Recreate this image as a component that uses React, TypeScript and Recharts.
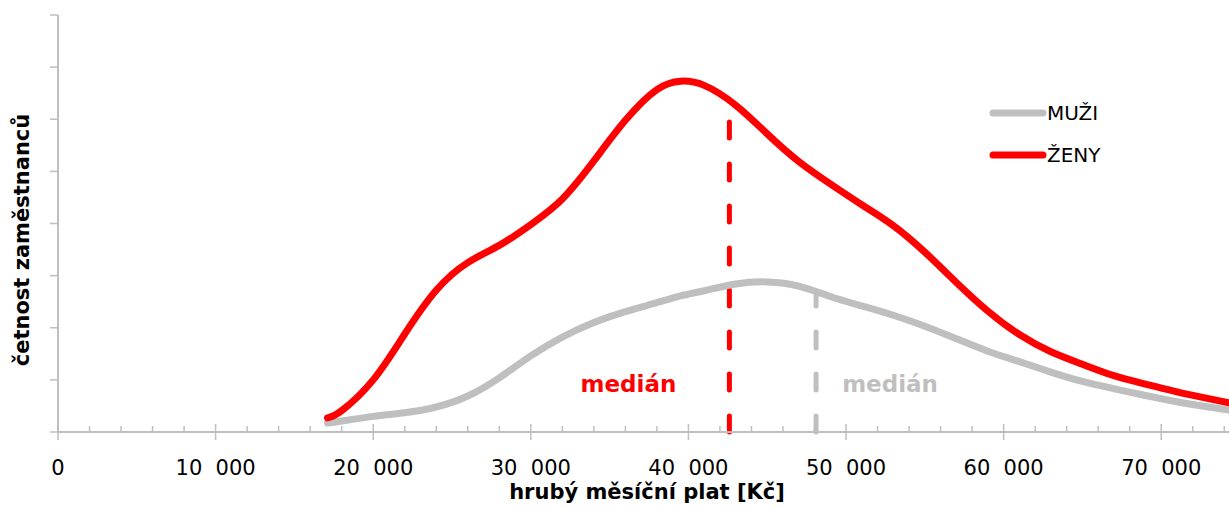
import React from "react";
import { LineChart, Line, XAxis, YAxis, ReferenceLine } from "recharts";

// hrubý měsíční plat [Kč]
const salaries = [
  17100, 18000, 20000, 22000, 24000, 26000, 28000, 30000, 32000, 34000, 36000,
  38000, 39500, 41000, 43000, 45000, 47000, 49000, 51000, 53000, 55000, 57000,
  59000, 61000, 63000, 65000, 67000, 69000, 71000, 73000, 74300,
];
const zeny = [
  0.27, 0.41, 1.0, 1.88, 2.72, 3.25, 3.58, 3.98, 4.47, 5.2, 5.98, 6.57, 6.73,
  6.65, 6.27, 5.72, 5.19, 4.76, 4.36, 3.96, 3.45, 2.87, 2.32, 1.87, 1.54, 1.3,
  1.08, 0.92, 0.77, 0.64, 0.56,
];
const muzi = [
  0.17, 0.21, 0.3, 0.37, 0.48, 0.69, 1.04, 1.46, 1.82, 2.1, 2.31, 2.48, 2.61,
  2.71, 2.84, 2.88, 2.8, 2.6, 2.42, 2.24, 2.03, 1.79, 1.55, 1.35, 1.15, 0.97,
  0.83, 0.7, 0.58, 0.48, 0.42,
];
const medianZeny = 42600;
const medianZenyTop = 6;
const medianMuzi = 48100;
const medianMuziTop = 2.68;

const xTicks = Array.from({ length: 38 }, (_, i) => i * 2000);
const yTicks = [0, 1, 2, 3, 4, 5, 6, 7, 8];

const data = salaries.map((s, i) => ({ plat: s, zeny: zeny[i], muzi: muzi[i] }));

const RED = "#ff0000";
const GRAY = "#bfbfbf";
const FONT = "'DejaVu Sans', sans-serif";

const formatTick = (v: number) =>
  v === 0 ? "0" : `${Math.floor(v / 1000)}\u00a0\u00a0000`;

const XTick = ({ x, y, payload }: any) => {
  const v = payload.value as number;
  const major = v % 10000 === 0;
  return (
    <g>
      <line
        x1={x}
        x2={x}
        y1={major ? y - 8 : y - 6}
        y2={major ? y + 8 : y}
        stroke={GRAY}
        strokeWidth={1.5}
      />
      {major && (
        <text
          x={x}
          y={y + 43}
          textAnchor="middle"
          fontSize={21}
          fontFamily={FONT}
          fill="#000"
        >
          {formatTick(v)}
        </text>
      )}
    </g>
  );
};

const legendItems = [
  { name: "MUŽI", color: GRAY },
  { name: "ŽENY", color: RED },
];

const medianLabel =
  (color: string, dx: number) =>
  ({ viewBox }: any) =>
    (
      <text
        x={viewBox.x + dx}
        y={viewBox.y + viewBox.height - 40}
        textAnchor="middle"
        fontSize={23}
        fontWeight="bold"
        fontFamily={FONT}
        fill={color}
      >
        medián
      </text>
    );

export default function App() {
  return (
    <div
      style={{
        position: "absolute",
        left: 0,
        top: 0,
        width: 1229,
        height: 508,
        background: "#fff",
      }}
    >
      <LineChart
        width={1229}
        height={508}
        data={data}
        margin={{ top: 15, right: 0, left: 50, bottom: 36 }}
      >
        <XAxis
          dataKey="plat"
          type="number"
          domain={[0, 74260]}
          ticks={xTicks}
          interval={0}
          height={40}
          tickSize={0}
          tickMargin={0}
          tickLine={false}
          tick={<XTick />}
          axisLine={{ stroke: GRAY, strokeWidth: 2 }}
        />
        <YAxis
          type="number"
          domain={[0, 8]}
          ticks={yTicks}
          width={8}
          tickSize={8}
          tickMargin={0}
          tickFormatter={() => ""}
          tickLine={{ stroke: GRAY, strokeWidth: 1.5 }}
          axisLine={{ stroke: GRAY, strokeWidth: 2 }}
        />
        <ReferenceLine
          segment={[
            { x: medianZeny, y: 0 },
            { x: medianZeny, y: medianZenyTop },
          ]}
          stroke={RED}
          strokeWidth={5}
          strokeDasharray="16 26"
          strokeLinecap="round"
          label={medianLabel(RED, -101)}
        />
        <ReferenceLine
          segment={[
            { x: medianMuzi, y: 0 },
            { x: medianMuzi, y: medianMuziTop },
          ]}
          stroke={GRAY}
          strokeWidth={5}
          strokeDasharray="16 26"
          strokeLinecap="round"
          label={medianLabel(GRAY, 74)}
        />
        <Line
          type="natural"
          dataKey="muzi"
          name="MUŽI"
          stroke={GRAY}
          strokeWidth={7}
          strokeLinecap="round"
          dot={false}
          activeDot={false}
          isAnimationActive={false}
        />
        <Line
          type="natural"
          dataKey="zeny"
          name="ŽENY"
          stroke={RED}
          strokeWidth={7}
          strokeLinecap="round"
          dot={false}
          activeDot={false}
          isAnimationActive={false}
        />
      </LineChart>
      <div
        style={{
          position: "absolute",
          left: 985,
          top: 92,
          fontFamily: FONT,
          fontSize: 20,
        }}
      >
        {legendItems.map((it) => (
          <div
            key={it.name}
            style={{ display: "flex", alignItems: "center", height: 42 }}
          >
            <svg width={62} height={10}>
              <line
                x1={8}
                x2={58}
                y1={5}
                y2={5}
                stroke={it.color}
                strokeWidth={7}
                strokeLinecap="round"
              />
            </svg>
            <span>{it.name}</span>
          </div>
        ))}
      </div>
      <div
        style={{
          position: "absolute",
          left: 0,
          width: 1294,
          top: 480,
          textAlign: "center",
          fontFamily: FONT,
          fontWeight: "bold",
          fontSize: 21,
        }}
      >
        hrubý měsíční plat [Kč]
      </div>
      <div
        style={{
          position: "absolute",
          left: 22,
          top: 240,
          transform: "translate(-50%, -50%) rotate(-90deg)",
          whiteSpace: "nowrap",
          fontFamily: FONT,
          fontWeight: "bold",
          fontSize: 21,
        }}
      >
        četnost zaměstnanců
      </div>
    </div>
  );
}
